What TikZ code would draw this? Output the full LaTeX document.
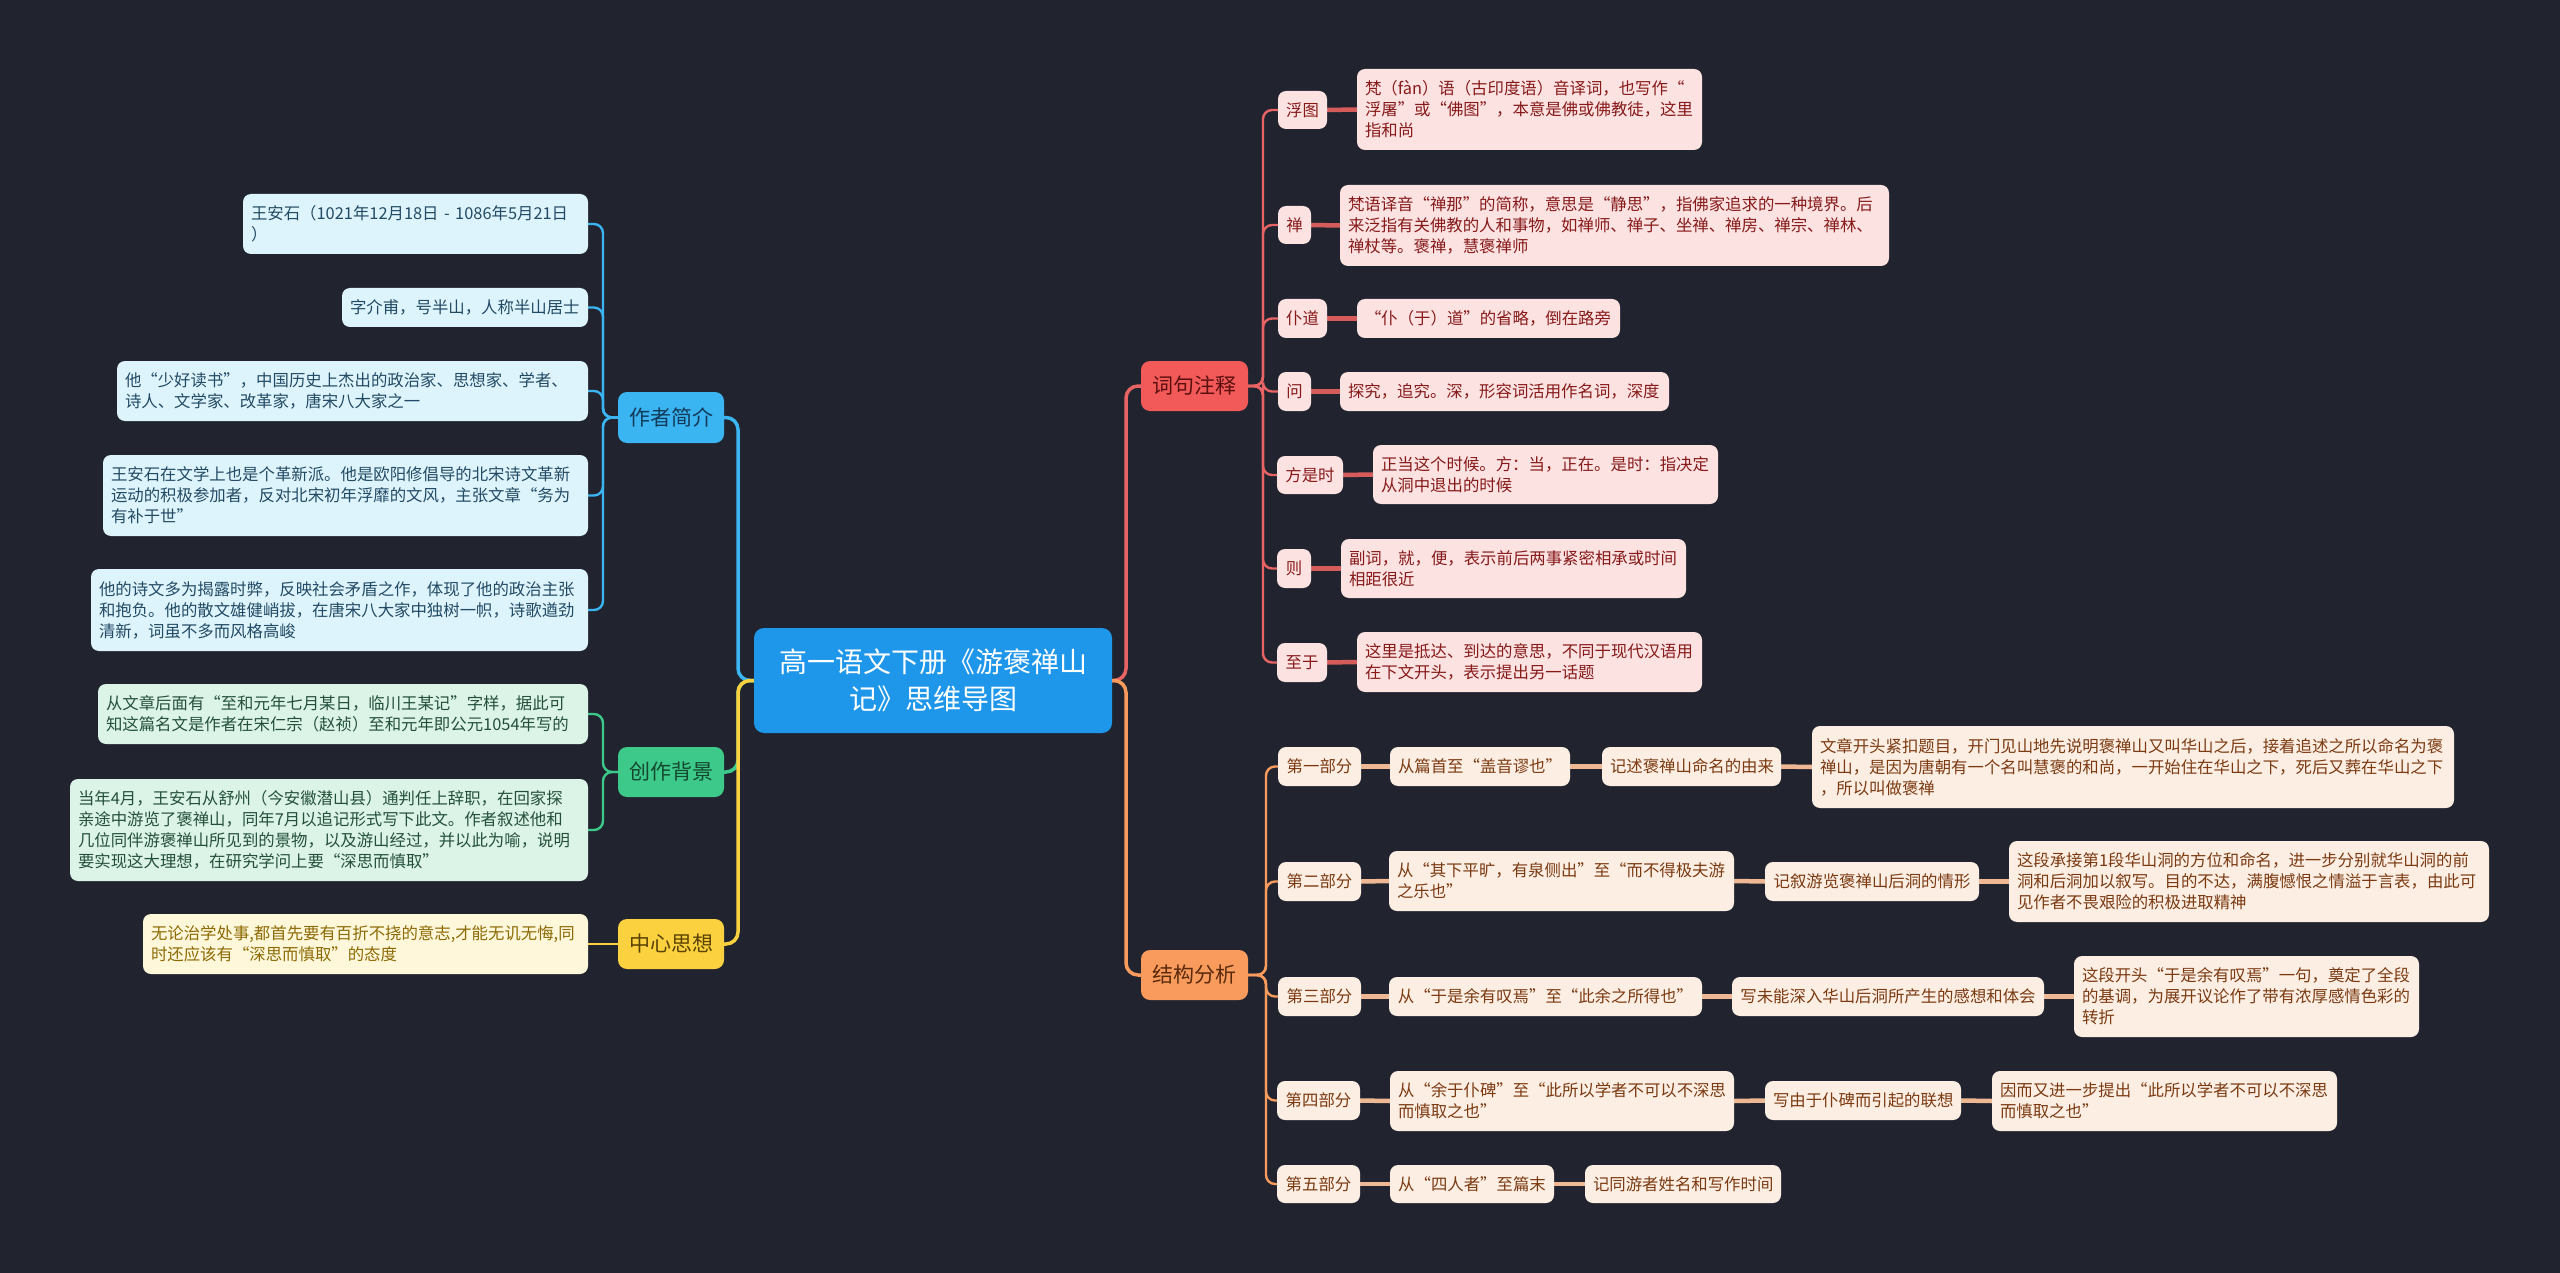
\documentclass[tikz,border=0pt]{standalone}
\usepackage{fontspec}
\setmainfont{Noto Sans CJK SC}
\usetikzlibrary{calc}
\definecolor{bgc}{HTML}{21242F}
\definecolor{cmain}{HTML}{1E96EA}
\definecolor{cblue}{HTML}{3BB4F2}
\definecolor{bleaf}{HTML}{DDF4FD}
\definecolor{btext}{HTML}{234A63}
\definecolor{btopic}{HTML}{133A58}
\definecolor{cgreen}{HTML}{3CC98A}
\definecolor{gleaf}{HTML}{DCF4E8}
\definecolor{gtext}{HTML}{24503A}
\definecolor{gtopic}{HTML}{15482E}
\definecolor{cyellow}{HTML}{FCD13F}
\definecolor{yleaf}{HTML}{FFF7D9}
\definecolor{ytext}{HTML}{8C6A05}
\definecolor{ytopic}{HTML}{5A4200}
\definecolor{cred}{HTML}{F25A5A}
\definecolor{rline}{HTML}{E86464}
\definecolor{rleaf}{HTML}{FDE2E2}
\definecolor{rtext}{HTML}{861A1A}
\definecolor{rtopic}{HTML}{5C0F0F}
\definecolor{rlink}{HTML}{D65C5C}
\definecolor{corange}{HTML}{F99B5C}
\definecolor{oleaf}{HTML}{FDEEE3}
\definecolor{otext}{HTML}{7A3A12}
\definecolor{otopic}{HTML}{5A2A0A}
\definecolor{olink}{HTML}{EDB893}
\pgfdeclarelayer{back}
\pgfdeclarelayer{edges}
\pgfsetlayers{back,edges,main}
\newcommand\mmbox[7]{%
  \pgfmathsetmacro\mmcx{(#2+#4)/2}%
  \pgfmathsetmacro\mmcy{(#3+#5)/2}%
  \pgfmathsetmacro\mmtw{#4-#2-16}%
  \pgfmathsetmacro\mmh{#5-#3}%
  \node[#6, text width=\mmtw pt, minimum height=\mmh pt] (#1) at (\mmcx,\mmcy) {#7};}
\begin{document}
\begin{tikzpicture}[x=1pt,y=-1pt,
  base/.style={rounded corners=8pt, inner xsep=8pt, inner ysep=0pt, outer sep=0pt,
    font=\fontsize{16.4}{21}\selectfont},
  lfl/.style={base, align=left},
  lfc/.style={base, align=center},
  topic/.style={base, rounded corners=9pt, align=center, font=\fontsize{21}{26}\selectfont},
  bl/.style={lfl, fill=bleaf, text=btext},
  gl/.style={lfl, fill=gleaf, text=gtext},
  yl/.style={lfl, fill=yleaf, text=ytext},
  rl/.style={lfl, fill=rleaf, text=rtext},
  rc/.style={lfc, fill=rleaf, text=rtext},
  ol/.style={lfl, fill=oleaf, text=otext},
  oc/.style={lfc, fill=oleaf, text=otext},
  mainline/.style={line width=3.5pt, rounded corners=12pt},
  subline/.style={line width=2.4pt, rounded corners=9pt},
  link/.style={line width=4.5pt}
]
\begin{pgfonlayer}{back}
\fill[bgc] (0,0) rectangle (2560,1273);
\end{pgfonlayer}
\useasboundingbox (0,0) rectangle (2560,1273);

% central
\node[base, rounded corners=10pt, fill=cmain, text=white, align=center, text width=342pt,
  minimum height=105pt, font=\fontsize{28}{37}\selectfont] (central) at (933,680.5)
  {高一语文下册《游褒禅山\\记》思维导图};

% left topics
\mmbox{author}{618}{392}{724}{443}{topic, fill=cblue, text=btopic}{作者简介}
\mmbox{bgd}{618}{747}{724}{797}{topic, fill=cgreen, text=gtopic}{创作背景}
\mmbox{idea}{618}{919}{724}{969}{topic, fill=cyellow, text=ytopic}{中心思想}

\mmbox{a1}{243}{194}{588}{254}{bl}{王安石（1021年12月18日 - 1086年5月21日\\）}
\mmbox{a2}{342}{288}{588}{327}{bl}{字介甫，号半山，人称半山居士}
\mmbox{a3}{117}{361}{588}{421}{bl}{他“少好读书”，中国历史上杰出的政治家、思想家、学者、\\诗人、文学家、改革家，唐宋八大家之一}
\mmbox{a4}{103}{455}{588}{536}{bl}{王安石在文学上也是个革新派。他是欧阳修倡导的北宋诗文革新\\运动的积极参加者，反对北宋初年浮靡的文风，主张文章“务为\\有补于世”}
\mmbox{a5}{91}{569}{588}{651}{bl}{他的诗文多为揭露时弊，反映社会矛盾之作，体现了他的政治主张\\和抱负。他的散文雄健峭拔，在唐宋八大家中独树一帜，诗歌遒劲\\清新，词虽不多而风格高峻}

\mmbox{b1}{98}{684}{588}{744}{gl}{从文章后面有“至和元年七月某日，临川王某记”字样，据此可\\知这篇名文是作者在宋仁宗（赵祯）至和元年即公元1054年写的}
\mmbox{b2}{70}{779}{588}{881}{gl}{当年4月，王安石从舒州（今安徽潜山县）通判任上辞职，在回家探\\亲途中游览了褒禅山，同年7月以追记形式写下此文。作者叙述他和\\几位同伴游褒禅山所见到的景物，以及游山经过，并以此为喻，说明\\要实现这大理想，在研究学问上要“深思而慎取”}

\mmbox{c1}{143}{914}{588}{974}{yl}{无论治学处事,都首先要有百折不挠的意志,才能无讥无悔,同\\时还应该有“深思而慎取”的态度}

% right topics
\mmbox{ci}{1141}{361}{1248}{411}{topic, fill=cred, text=rtopic}{词句注释}
\mmbox{st}{1141}{950}{1248}{1000}{topic, fill=corange, text=otopic}{结构分析}

\mmbox{r1}{1278}{91}{1327}{129}{rc}{浮图}
\mmbox{r1d}{1357}{69}{1702}{150}{rl}{梵（fàn）语（古印度语）音译词，也写作“\\浮屠”或“佛图”，本意是佛或佛教徒，这里\\指和尚}
\mmbox{r2}{1278}{206}{1311}{244}{rc}{禅}
\mmbox{r2d}{1340}{185}{1889}{266}{rl}{梵语译音“禅那”的简称，意思是“静思”，指佛家追求的一种境界。后\\来泛指有关佛教的人和事物，如禅师、禅子、坐禅、禅房、禅宗、禅林、\\禅杖等。褒禅，慧褒禅师}
\mmbox{r3}{1278}{299}{1327}{338}{rc}{仆道}
\mmbox{r3d}{1357}{299}{1620}{338}{rl}{“仆（于）道”的省略，倒在路旁}
\mmbox{r4}{1278}{372}{1311}{411}{rc}{问}
\mmbox{r4d}{1340}{372}{1669}{411}{rl}{探究，追究。深，形容词活用作名词，深度}
\mmbox{r5}{1277}{456}{1343}{494}{rc}{方是时}
\mmbox{r5d}{1373}{445}{1718}{504}{rl}{正当这个时候。方：当，正在。是时：指决定\\从洞中退出的时候}
\mmbox{r6}{1277}{549}{1311}{588}{rc}{则}
\mmbox{r6d}{1341}{539}{1686}{598}{rl}{副词，就，便，表示前后两事紧密相承或时间\\相距很近}
\mmbox{r7}{1277}{643}{1327}{682}{rc}{至于}
\mmbox{r7d}{1357}{632}{1702}{692}{rl}{这里是抵达、到达的意思，不同于现代汉语用\\在下文开头，表示提出另一话题}

\mmbox{s1}{1278}{747}{1361}{786}{oc}{第一部分}
\mmbox{s1a}{1390}{747}{1570}{786}{oc}{从篇首至“盖音谬也”}
\mmbox{s1b}{1602}{747}{1781}{786}{oc}{记述褒禅山命名的由来}
\mmbox{s1c}{1812}{726}{2454}{808}{ol}{文章开头紧扣题目，开门见山地先说明褒禅山又叫华山之后，接着追述之所以命名为褒\\禅山，是因为唐朝有一个名叫慧褒的和尚，一开始住在华山之下，死后又葬在华山之下\\，所以叫做褒禅}
\mmbox{s2}{1278}{862}{1361}{901}{oc}{第二部分}
\mmbox{s2a}{1389}{851}{1734}{911}{ol}{从“其下平旷，有泉侧出”至“而不得极夫游\\之乐也”}
\mmbox{s2b}{1765}{862}{1979}{901}{oc}{记叙游览褒禅山后洞的情形}
\mmbox{s2c}{2009}{841}{2489}{922}{ol}{这段承接第1段华山洞的方位和命名，进一步分别就华山洞的前\\洞和后洞加以叙写。目的不达，满腹憾恨之情溢于言表，由此可\\见作者不畏艰险的积极进取精神}
\mmbox{s3}{1278}{977}{1361}{1016}{oc}{第三部分}
\mmbox{s3a}{1389}{977}{1702}{1016}{oc}{从“于是余有叹焉”至“此余之所得也”}
\mmbox{s3b}{1732}{977}{2044}{1016}{oc}{写未能深入华山后洞所产生的感想和体会}
\mmbox{s3c}{2074}{956}{2419}{1037}{ol}{这段开头“于是余有叹焉”一句，奠定了全段\\的基调，为展开议论作了带有浓厚感情色彩的\\转折}
\mmbox{s4}{1277}{1081}{1360}{1120}{oc}{第四部分}
\mmbox{s4a}{1390}{1071}{1734}{1131}{ol}{从“余于仆碑”至“此所以学者不可以不深思\\而慎取之也”}
\mmbox{s4b}{1765}{1081}{1961}{1120}{oc}{写由于仆碑而引起的联想}
\mmbox{s4c}{1992}{1071}{2337}{1131}{ol}{因而又进一步提出“此所以学者不可以不深思\\而慎取之也”}
\mmbox{s5}{1277}{1165}{1360}{1203}{oc}{第五部分}
\mmbox{s5a}{1390}{1165}{1554}{1203}{oc}{从“四人者”至篇末}
\mmbox{s5b}{1585}{1165}{1781}{1203}{oc}{记同游者姓名和写作时间}

\begin{pgfonlayer}{edges}
% main branches
\draw[mainline, cblue] (central.west) -- ++(-16,0) |- (author.east);
\draw[mainline, cgreen] (central.west) -- ++(-16,0) |- (bgd.east);
\draw[mainline, cyellow] (central.west) -- ++(-16,0) |- (idea.east);
\draw[mainline, rline] (central.east) -- ++(14,0) |- (ci.west);
\draw[mainline, corange] (central.east) -- ++(14,0) |- (st.west);
% author
\foreach \n in {a1,a2,a3,a4,a5}
  \draw[subline, cblue] (author.west) -- ++(-15,0) |- (\n.east);
\foreach \n in {b1,b2}
  \draw[subline, cgreen] (bgd.west) -- ++(-15,0) |- (\n.east);
\draw[subline, cyellow] (idea.west) -- (c1.east);
% notes
\foreach \n in {r1,r2,r3,r4,r5,r6,r7}
  \draw[subline, rline] (ci.east) -- ++(15,0) |- (\n.west);
\foreach \a/\b in {r1/r1d,r2/r2d,r3/r3d,r4/r4d,r5/r5d,r6/r6d,r7/r7d}
  \draw[link, rlink] (\a.east) -- (\b.west);
% structure
\foreach \n in {s1,s2,s3,s4,s5}
  \draw[subline, corange] (st.east) -- ++(18,0) |- (\n.west);
\foreach \a/\b in {s1/s1a,s1a/s1b,s1b/s1c,s2/s2a,s2a/s2b,s2b/s2c,s3/s3a,s3a/s3b,s3b/s3c,s4/s4a,s4a/s4b,s4b/s4c,s5/s5a,s5a/s5b}
  \draw[link, olink] (\a.east) -- (\b.west);
\end{pgfonlayer}
\end{tikzpicture}
\end{document}
